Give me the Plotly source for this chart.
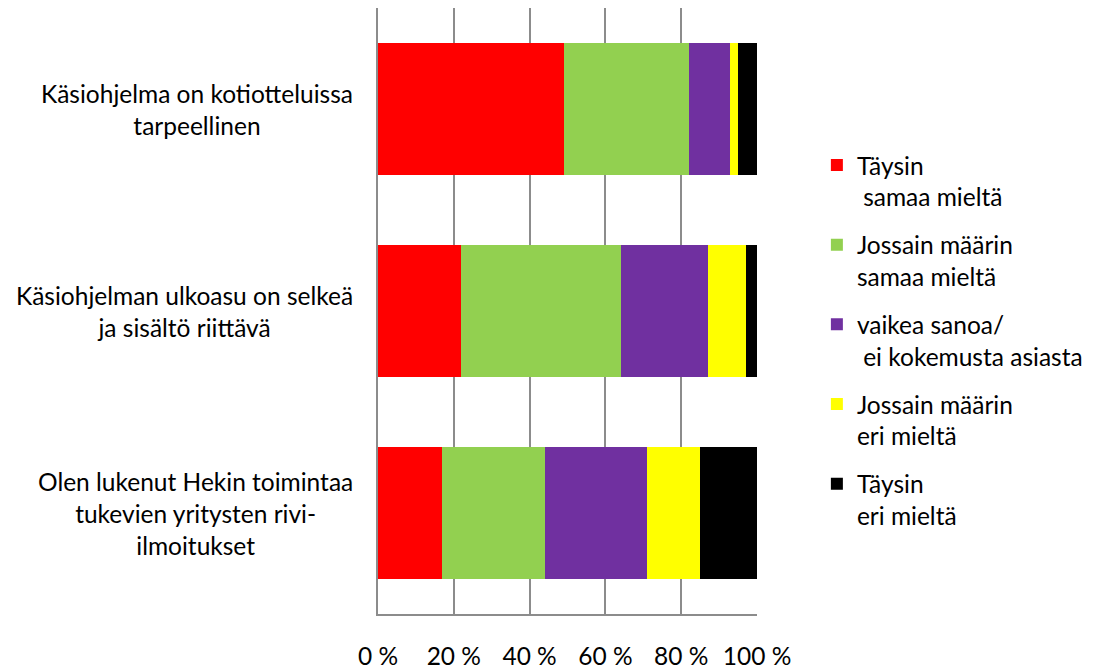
import plotly.graph_objects as go

# Survey statements (top to bottom)
statements = [
    "Käsiohjelma on kotiotteluissa<br>tarpeellinen",
    "Käsiohjelman ulkoasu on selkeä<br>ja sisältö riittävä",
    "Olen lukenut Hekin toimintaa<br>tukevien yritysten rivi-<br>ilmoitukset",
]
category_keys = ["s1", "s2", "s3"]

# Response shares in percent, per answer option
taysin_samaa = [49, 22, 17]
jossain_samaa = [33, 42, 27]
vaikea_sanoa = [11, 23, 27]
jossain_eri = [2, 10, 14]
taysin_eri = [5, 3, 15]

series_names = [
    "Täysin<br> samaa mieltä",
    "Jossain määrin<br>samaa mieltä",
    "vaikea sanoa/<br> ei kokemusta asiasta",
    "Jossain määrin<br>eri mieltä",
    "Täysin<br>eri mieltä",
]
series_values = [taysin_samaa, jossain_samaa, vaikea_sanoa, jossain_eri, taysin_eri]
series_colors = ["#FF0000", "#92D050", "#7030A0", "#FFFF00", "#000000"]

tick_values = [0, 20, 40, 60, 80, 100]
tick_labels = ["0 %", "20 %", "40 %", "60 %", "80 %", "100 %"]

FONT = "Lato, Open Sans, sans-serif"
FSIZE = 24.5

fig = go.Figure()
for i, (name, vals, col) in enumerate(zip(series_names, series_values, series_colors)):
    fig.add_trace(go.Bar(
        y=category_keys, x=vals, name=name, orientation="h",
        marker=dict(color=col, line=dict(width=0)),
        legendgroup=f"g{i}", hoverinfo="skip",
    ))

for key, label in zip(category_keys, statements):
    fig.add_annotation(
        x=-0.062, xref="paper", y=key, yref="y", text=label,
        showarrow=False, xanchor="right", yanchor="middle", align="center",
        font=dict(family=FONT, size=FSIZE, color="black"),
    )

fig.update_layout(
    width=1094, height=671,
    margin=dict(l=378, r=337, t=8, b=57, autoexpand=False),
    barmode="stack", bargap=0.35,
    plot_bgcolor="white", paper_bgcolor="white",
    font=dict(family=FONT, size=FSIZE, color="black"),
    showlegend=True,
    legend=dict(
        x=1.158, y=0.778, xanchor="left", yanchor="top",
        traceorder="grouped", tracegroupgap=13, valign="top",
        itemwidth=30, font=dict(family=FONT, size=FSIZE, color="black"),
        bgcolor="rgba(0,0,0,0)",
    ),
    xaxis=dict(
        range=[0, 100], tickvals=tick_values, ticktext=tick_labels,
        showgrid=True, gridcolor="#8c8c8c", gridwidth=2,
        showline=True, linecolor="#8c8c8c", linewidth=2,
        zeroline=False, ticks="", ticklabelstandoff=20, automargin=False,
        tickfont=dict(family=FONT, size=FSIZE, color="black"),
    ),
    yaxis=dict(
        categoryorder="array", categoryarray=category_keys, autorange="reversed",
        showticklabels=False, showgrid=False, zeroline=False, automargin=False,
        showline=True, linecolor="#8c8c8c", linewidth=2, ticks="",
    ),
)

fig.write_html("out.html")
